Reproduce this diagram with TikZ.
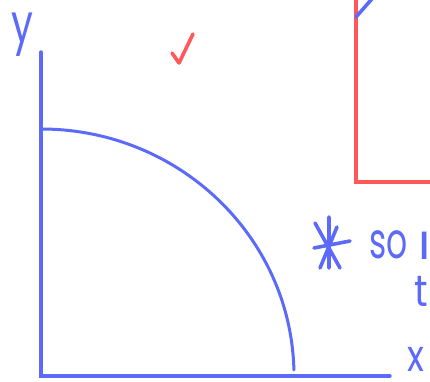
\documentclass[tikz,border=0pt]{standalone}
\usepackage{fontspec}
\newfontfamily\hand{Poppins}
\definecolor{inkblue}{RGB}{92,106,250}
\definecolor{inkred}{RGB}{255,88,88}
\begin{document}
\begin{tikzpicture}[x=1pt,y=1pt,
  axis/.style={draw=inkblue,line width=3.4pt,line cap=round},
  curvepen/.style={draw=inkblue,line width=3pt,line cap=round},
  redpen/.style={draw=inkred,line width=3.4pt},
  stroke/.style={draw=inkblue,line width=3.6pt,line cap=round},
  redstroke/.style={draw=inkred,line width=3.6pt,line cap=round,line join=round},
  hw/.style={text=inkblue,inner sep=0pt,font=\hand}]
\useasboundingbox (0,0) rectangle (430,381);
\clip (0,0) rectangle (430,381);
% axes
\coordinate (O) at (41,381-376);
\coordinate (ytop) at (41,381-52);
\coordinate (xend) at (390,381-376);
\draw[axis] (ytop) -- (O) -- (xend);
% curve (quarter ellipse)
\coordinate (cstart) at (41,381-129);
\draw[curvepen] (cstart) arc[start angle=90,end angle=1.4,x radius=253pt,y radius=247pt];
% red box
\coordinate (r1) at (356,390);
\coordinate (r2) at (356,381-182);
\coordinate (r3) at (440,381-182);
\draw[redpen] (r1) -- (r2) -- (r3);
% blue diagonal at top
\coordinate (b1) at (356,381-17);
\coordinate (b2) at (378,381+8);
\draw[stroke] (b1) -- (b2);
% check mark
\coordinate (c1) at (172,381-53);
\coordinate (c2) at (179,381-63);
\coordinate (c3) at (193,381-34);
\draw[redstroke] (c1) -- (c2) -- (c3);
% asterisk
\coordinate (a1) at (329,381-217);
\coordinate (a2) at (329,381-268);
\coordinate (a3) at (337,381-227);
\coordinate (a4) at (320,381-268);
\coordinate (a5) at (315,381-223);
\coordinate (a6) at (340,381-268);
\coordinate (a7) at (314,381-248);
\coordinate (a8) at (350,381-241);
\draw[stroke] (a1) -- (a2) (a3) -- (a4) (a5) -- (a6) (a7) -- (a8);
% texts
\node[hw,font=\hand\fontsize{54}{54}\selectfont] (ylab) at (22,381-35) {\scalebox{0.72}[1]{y}};
\node[hw,font=\hand\fontsize{50}{50}\selectfont,anchor=base west] (so) at (369,381-258) {\scalebox{0.66}[1]{so}};
\node[hw,font=\hand\fontsize{50}{50}\selectfont,anchor=base east] (stem) at (430.5,381-259) {ı};
\node[hw,font=\hand\fontsize{44}{44}\selectfont,anchor=base] (t) at (421,381-306) {\scalebox{0.85}[1]{t}};
\node[hw,font=\hand\fontsize{44}{44}\selectfont,anchor=base east] (xlab) at (425,381-371) {\scalebox{0.8}[1]{x}};
\end{tikzpicture}
\end{document}
